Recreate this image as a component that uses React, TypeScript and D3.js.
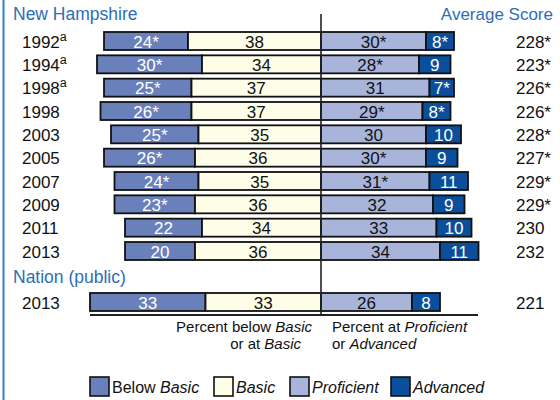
import React from 'react';
import { scaleLinear, scalePoint } from 'd3';

// New Hampshire rows
const years = ['1992', '1994', '1998', '1998', '2003', '2005', '2007', '2009', '2011', '2013'];
const yearNotes = ['a', 'a', 'a', '', '', '', '', '', '', ''];
const belowBasic = ['24*', '30*', '25*', '26*', '25*', '26*', '24*', '23*', '22', '20'];
const basic = ['38', '34', '37', '37', '35', '36', '35', '36', '34', '36'];
const proficient = ['30*', '28*', '31', '29*', '30', '30*', '31*', '32', '33', '34'];
const advanced = ['8*', '9', '7*', '8*', '10', '9', '11', '9', '10', '11'];
const scores = ['228*', '223*', '226*', '226*', '228*', '227*', '229*', '229*', '230', '232'];

// Nation (public)
const nationYear = '2013';
const nationValues = ['33', '33', '26', '8'];
const nationScore = '221';

const legendItems = [
  { pre: 'Below ', it: 'Basic' },
  { pre: '', it: 'Basic' },
  { pre: '', it: 'Proficient' },
  { pre: '', it: 'Advanced' },
];

const colors = ['#6a80bb', '#fdfde8', '#a9b4db', '#0b4f9c'];
const textColors = ['#ffffff', '#111111', '#111111', '#ffffff'];
const blue = '#2d6db8';
const font = 'Liberation Sans, Arial, sans-serif';

const App = () => {
  const x = scaleLinear().domain([-66, 34]).range([90, 440]);
  const rowKeys = years.map((y, i) => y + yearNotes[i] + i);
  const y = scalePoint().domain(rowKeys).range([41, 251]);
  const barH = 18;

  const drawBar = (labels: string[], cy: number, key: string) => {
    const v = labels.map((d) => parseFloat(d));
    const edges = [-(v[0] + v[1]), -v[1], 0, v[2], v[2] + v[3]];
    return (
      <g key={key}>
        {labels.map((lab, j) => {
          const x0 = x(edges[j]);
          const x1 = x(edges[j + 1]);
          return (
            <g key={j}>
              <rect x={x0} y={cy - barH / 2} width={x1 - x0} height={barH}
                fill={colors[j]} stroke="#111" strokeWidth={1.8} />
              <text x={(x0 + x1) / 2} y={cy + 6.5} textAnchor="middle"
                fontSize={17} fill={textColors[j]}>{lab}</text>
            </g>
          );
        })}
      </g>
    );
  };

  const legendX = [90, 214, 290, 391];

  return (
    <svg width={560} height={400} style={{ position: 'absolute', left: 0, top: 0 }}
      fontFamily={font}>
      <rect width={560} height={400} fill="#fff" />
      <line x1={3.5} x2={3.5} y1={0} y2={400} stroke="#3b7cc6" strokeWidth={2} />

      <text x={13} y={20} fontSize={17.5} fill={blue}>New Hampshire</text>
      <text x={553} y={20} fontSize={17} fill={blue} textAnchor="end">Average Score</text>

      {rowKeys.map((k, i) => {
        const cy = y(k) as number;
        return (
          <g key={k}>
            <text x={22} y={cy + 6.5} fontSize={17} fill="#111">
              {years[i]}
              {yearNotes[i] && <tspan fontSize={12.5} dy={-7}>{yearNotes[i]}</tspan>}
            </text>
            {drawBar([belowBasic[i], basic[i], proficient[i], advanced[i]], cy, 'b' + i)}
            <text x={516} y={cy + 6.5} fontSize={17} fill="#111">{scores[i]}</text>
          </g>
        );
      })}

      <text x={13} y={283} fontSize={17.5} fill={blue}>Nation (public)</text>
      <text x={22} y={308.5} fontSize={17} fill="#111">{nationYear}</text>
      {drawBar(nationValues, 302, 'nation')}
      <text x={516} y={308.5} fontSize={17} fill="#111">{nationScore}</text>

      <line x1={x(0)} x2={x(0)} y1={14} y2={315} stroke="#222" strokeWidth={1.6} />
      <line x1={90} x2={478} y1={315} y2={315} stroke="#222" strokeWidth={2} />

      <text x={312} y={332} fontSize={15} fill="#111" textAnchor="end">
        Percent below <tspan fontStyle="italic">Basic</tspan>
      </text>
      <text x={301} y={349} fontSize={15} fill="#111" textAnchor="end">
        or at <tspan fontStyle="italic">Basic</tspan>
      </text>
      <text x={332} y={332} fontSize={15} fill="#111">
        Percent at <tspan fontStyle="italic">Proficient</tspan>
      </text>
      <text x={332} y={349} fontSize={15} fill="#111">
        or <tspan fontStyle="italic">Advanced</tspan>
      </text>

      {legendItems.map((d, i) => (
        <g key={i}>
          <rect x={legendX[i]} y={377} width={19} height={19} fill={colors[i]}
            stroke="#111" strokeWidth={1.6} />
          <text x={legendX[i] + 22} y={393} fontSize={16} fill="#111">
            {d.pre}<tspan fontStyle="italic">{d.it}</tspan>
          </text>
        </g>
      ))}
    </svg>
  );
};

export default App;
